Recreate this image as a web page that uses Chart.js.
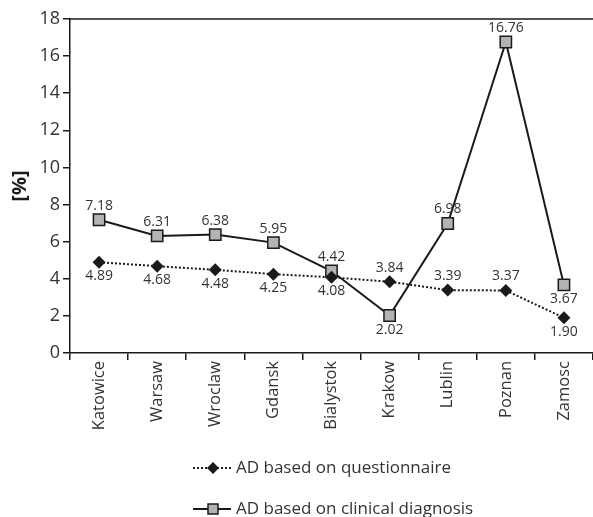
<!DOCTYPE html>
<html lang="en">
<head>
  <meta charset="UTF-8" />
  <title>AD prevalence</title>
  <script src="https://cdn.jsdelivr.net/npm/chart.js"></script>
  <style>
    html, body { margin: 0; padding: 0; background: #fff; }
    #wrap { width: 593px; height: 517px; }
  </style>
</head>
<body>
  <div id="wrap"><canvas id="myChart" width="593" height="517"></canvas></div>

  <script>
    // chart data
    const cities = ['Katowice', 'Warsaw', 'Wroclaw', 'Gdansk', 'Bialystok', 'Krakow', 'Lublin', 'Poznan', 'Zamosc'];
    const questionnaire = [4.89, 4.68, 4.48, 4.25, 4.08, 3.84, 3.39, 3.37, 1.90];
    const clinical = [7.18, 6.31, 6.38, 5.95, 4.42, 2.02, 6.98, 16.76, 3.67];
    const yTicks = [0, 2, 4, 6, 8, 10, 12, 14, 16, 18];

    // where each value label sits: 1 = above the point, -1 = below
    const questionnaireSide = [-1, -1, -1, -1, -1, 1, 1, 1, -1];
    const clinicalSide = [1, 1, 1, 1, 1, -1, 1, 1, -1];

    const legendLabels = ['AD based on questionnaire', 'AD based on clinical diagnosis'];

    const FONT = '"Open Sans", "Noto Sans", sans-serif';
    const INK = '#1a1a1a';
    const TEXT = '#333';

    const valueLabels = {
      id: 'valueLabels',
      afterDatasetsDraw(chart) {
        const ctx = chart.ctx;
        const sides = [questionnaireSide, clinicalSide];
        ctx.save();
        ctx.font = '14px ' + FONT;
        ctx.fillStyle = TEXT;
        ctx.textAlign = 'center';
        chart.data.datasets.forEach((ds, d) => {
          const meta = chart.getDatasetMeta(d);
          meta.data.forEach((pt, i) => {
            const side = sides[d][i];
            ctx.textBaseline = side > 0 ? 'bottom' : 'top';
            const y = side > 0 ? pt.y - 7 : pt.y + 7;
            ctx.fillText(ds.data[i].toFixed(2), pt.x, y);
          });
        });
        ctx.restore();
      }
    };

    const frame = {
      id: 'frame',
      afterDraw(chart) {
        const { ctx, chartArea } = chart;
        ctx.save();
        ctx.strokeStyle = INK;
        ctx.lineWidth = 1.5;
        ctx.beginPath();
        ctx.moveTo(chartArea.left, chartArea.top);
        ctx.lineTo(chart.width, chartArea.top);
        ctx.stroke();
        ctx.restore();
      }
    };

    // legend with line + marker samples, stacked under the axis labels
    const customLegend = {
      id: 'customLegend',
      afterDraw(chart) {
        const ctx = chart.ctx;
        const x0 = 193;
        const rows = [468, 509];
        ctx.save();
        ctx.strokeStyle = INK;
        ctx.lineWidth = 2;

        // questionnaire sample
        ctx.setLineDash([2, 2]);
        ctx.beginPath();
        ctx.moveTo(x0, rows[0]);
        ctx.lineTo(x0 + 38, rows[0]);
        ctx.stroke();
        ctx.setLineDash([]);
        ctx.fillStyle = INK;
        ctx.beginPath();
        ctx.moveTo(x0 + 20, rows[0] - 6);
        ctx.lineTo(x0 + 26, rows[0]);
        ctx.lineTo(x0 + 20, rows[0] + 6);
        ctx.lineTo(x0 + 14, rows[0]);
        ctx.closePath();
        ctx.fill();

        // clinical sample
        ctx.beginPath();
        ctx.moveTo(x0, rows[1]);
        ctx.lineTo(x0 + 38, rows[1]);
        ctx.stroke();
        ctx.fillStyle = '#b3b3b3';
        ctx.lineWidth = 1.5;
        ctx.fillRect(x0 + 15, rows[1] - 5, 10, 10);
        ctx.strokeRect(x0 + 15, rows[1] - 5, 10, 10);

        ctx.fillStyle = TEXT;
        ctx.font = '17px ' + FONT;
        ctx.textBaseline = 'middle';
        ctx.textAlign = 'left';
        ctx.fillText(legendLabels[0], x0 + 43, rows[0]);
        ctx.fillText(legendLabels[1], x0 + 43, rows[1]);
        ctx.restore();
      }
    };

    const ctx = document.getElementById('myChart').getContext('2d');

    const myChart = new Chart(ctx, {
      type: 'line',
      data: {
        labels: cities,
        datasets: [{
          label: legendLabels[0],
          data: questionnaire,
          borderColor: INK,
          borderWidth: 2,
          borderDash: [2, 2],
          pointStyle: 'rectRot',
          pointRadius: 6.5,
          pointBackgroundColor: INK,
          pointBorderColor: INK,
          pointBorderWidth: 0,
          tension: 0
        }, {
          label: legendLabels[1],
          data: clinical,
          borderColor: INK,
          borderWidth: 2,
          pointStyle: 'rect',
          pointRadius: 8,
          pointBackgroundColor: '#b3b3b3',
          pointBorderColor: INK,
          pointBorderWidth: 1.5,
          tension: 0
        }]
      },
      options: {
        responsive: false,
        animation: false,
        layout: { autoPadding: false, padding: { top: 19, right: 0, left: 0, bottom: 0 } },
        scales: {
          x: {
            offset: true,
            grid: {
              display: true,
              drawOnChartArea: false,
              offset: true,
              color: INK,
              tickLength: 7,
              lineWidth: 1.5
            },
            border: { color: INK, width: 1.5 },
            ticks: {
              color: TEXT,
              font: { family: FONT, size: 16.5 },
              maxRotation: 90,
              minRotation: 90,
              padding: 1
            },
            afterFit(scale) {
              scale.height = 164;
              scale.paddingLeft = 0;
              scale.paddingRight = 0;
            }
          },
          y: {
            min: 0,
            max: 18,
            afterBuildTicks(scale) { scale.ticks = yTicks.map(v => ({ value: v })); },
            grid: {
              display: true,
              drawOnChartArea: false,
              color: INK,
              tickLength: 7,
              lineWidth: 1.5
            },
            border: { color: INK, width: 1.5 },
            ticks: {
              color: TEXT,
              font: { family: FONT, size: 18 },
              padding: 3
            },
            title: {
              display: true,
              text: '[%]',
              color: INK,
              font: { family: FONT, size: 20, weight: 'bold' },
              padding: { top: 8, bottom: 0 }
            },
            afterFit(scale) {
              scale.width = 70;
              scale.paddingTop = 0;
              scale.paddingBottom = 0;
            }
          }
        },
        plugins: {
          legend: { display: false },
          tooltip: { enabled: false }
        }
      },
      plugins: [valueLabels, frame, customLegend]
    });
  </script>
</body>
</html>
